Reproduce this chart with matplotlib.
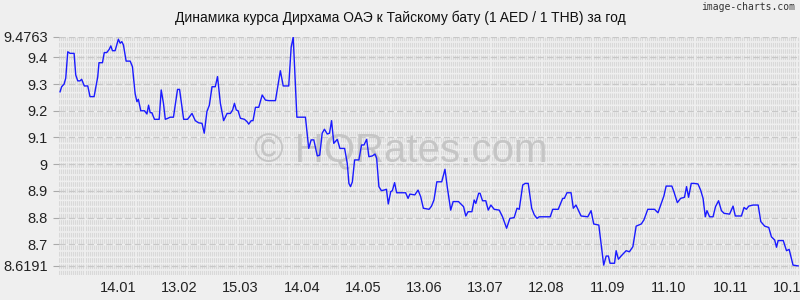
import numpy as np
import pandas as pd
import matplotlib
matplotlib.use("Agg")
import matplotlib.pyplot as plt
import matplotlib.dates as mdates

# days since 16.12.2024 and AED/THB rate
start = "2024-12-16"
days = [0.5, 1.3, 2.5, 3.3, 4.3, 5.4, 7.4, 8.2, 9.2, 10.3, 11.1, 12.4, 14.1, 15.2, 17.2,
        19.0, 19.6, 21.3, 22.2, 23.4, 24.6, 25.4, 26.2, 27.5, 29.1, 30.0, 30.8, 31.6, 32.9,
        34.9, 36.0, 37.3, 38.2, 38.9, 40.1, 41.9, 43.1, 43.9, 44.7, 45.5, 46.8, 49.1, 50.1,
        51.2, 52.1, 53.4, 54.5, 56.1, 58.1, 59.1, 61.1, 63.0, 65.2, 66.8, 68.4, 70.1, 71.2,
        72.5, 73.7, 75.0, 76.6, 77.7, 79.1, 80.7, 82.4, 84.0, 85.1, 86.0, 86.9, 87.8, 88.9,
        90.9, 92.2, 93.0, 94.2, 95.1, 96.3, 97.9, 99.6, 101.2, 102.8, 106.1, 107.2, 108.5,
        109.9, 112.6, 113.8, 114.8, 116.6, 120.8, 122.4, 123.6, 124.9, 126.6, 127.8, 129.0,
        130.1, 131.5, 132.6, 133.6, 134.7, 136.4, 137.7, 140.0, 141.3, 142.1, 142.9, 143.8,
        144.9, 147.0, 148.3, 149.5, 150.8, 151.9, 153.6, 154.9, 155.7, 156.8, 158.0, 159.3,
        160.5, 161.4, 162.6, 163.4, 164.5, 165.5, 169.9, 171.1, 172.0, 174.4, 176.0, 177.3,
        178.6, 181.4, 182.6, 183.8, 185.2, 187.6, 189.2, 190.4, 192.0, 193.2, 195.8, 197.0,
        198.3, 199.4, 200.5, 202.4, 203.5, 204.3, 205.7, 206.4, 207.6, 209.2, 210.4, 211.7,
        213.3, 215.8, 217.4, 219.4, 221.0, 223.1, 224.5, 225.6, 227.3, 228.5, 230.0, 231.7,
        233.0, 234.3, 235.4, 240.8, 242.0, 244.7, 246.9, 247.7, 249.0, 251.0, 252.1, 253.4,
        255.9, 259.2, 260.8, 262.1, 264.6, 267.0, 268.2, 269.3, 270.1, 272.3, 273.1, 274.2,
        275.5, 278.0, 279.6, 281.3, 282.9, 285.4, 286.7, 288.6, 291.9, 293.6, 295.2, 296.5,
        297.6, 300.4, 301.4, 303.1, 304.7, 306.6, 307.6, 308.6, 309.9, 311.3, 313.2, 314.5,
        315.7, 316.8, 317.6, 318.9, 320.6, 321.8, 323.3, 324.7, 326.0, 328.7, 330.4, 331.5,
        334.5, 335.8, 336.9, 338.1, 340.2, 342.7, 344.0, 345.9, 347.9, 349.2, 350.8, 351.7,
        352.5, 355.0, 356.6, 357.9, 359.8, 362.3]
rate = [9.271, 9.290, 9.300, 9.322, 9.421, 9.415, 9.415, 9.334, 9.312, 9.312, 9.318, 9.293,
        9.293, 9.253, 9.253, 9.328, 9.380, 9.380, 9.418, 9.418, 9.430, 9.443, 9.425, 9.425,
        9.468, 9.453, 9.459, 9.446, 9.386, 9.386, 9.365, 9.265, 9.234, 9.243, 9.200, 9.200,
        9.188, 9.221, 9.193, 9.193, 9.168, 9.168, 9.278, 9.228, 9.168, 9.172, 9.176, 9.176,
        9.280, 9.280, 9.168, 9.168, 9.190, 9.163, 9.155, 9.153, 9.116, 9.197, 9.221, 9.290,
        9.290, 9.328, 9.228, 9.163, 9.190, 9.190, 9.203, 9.228, 9.203, 9.200, 9.172, 9.168,
        9.159, 9.150, 9.163, 9.163, 9.213, 9.213, 9.259, 9.240, 9.238, 9.238, 9.290, 9.350,
        9.293, 9.293, 9.438, 9.476, 9.176, 9.176, 9.059, 9.091, 9.091, 9.031, 9.034, 9.116,
        9.131, 9.113, 9.116, 9.163, 9.078, 9.093, 9.059, 9.059, 9.003, 8.928, 8.916, 8.934,
        9.016, 9.016, 9.072, 9.072, 9.093, 9.028, 9.031, 9.038, 9.022, 8.916, 8.901, 8.903,
        8.906, 8.851, 8.897, 8.901, 8.931, 8.893, 8.893, 8.872, 8.888, 8.885, 8.903, 8.878,
        8.835, 8.831, 8.843, 8.866, 8.934, 8.934, 8.981, 8.910, 8.828, 8.860, 8.860, 8.851,
        8.841, 8.806, 8.822, 8.822, 8.866, 8.853, 8.891, 8.891, 8.863, 8.863, 8.828, 8.847,
        8.831, 8.828, 8.803, 8.760, 8.797, 8.800, 8.835, 8.831, 8.922, 8.928, 8.928, 8.835,
        8.810, 8.797, 8.803, 8.803, 8.831, 8.831, 8.872, 8.872, 8.893, 8.893, 8.835, 8.847,
        8.806, 8.803, 8.826, 8.776, 8.772, 8.622, 8.656, 8.656, 8.629, 8.629, 8.676, 8.644,
        8.656, 8.676, 8.672, 8.691, 8.768, 8.776, 8.791, 8.831, 8.831, 8.818, 8.853, 8.881,
        8.918, 8.918, 8.897, 8.856, 8.872, 8.876, 8.916, 8.876, 8.928, 8.928, 8.926, 8.903,
        8.872, 8.803, 8.826, 8.803, 8.803, 8.841, 8.863, 8.826, 8.816, 8.813, 8.843, 8.806,
        8.806, 8.838, 8.831, 8.843, 8.847, 8.847, 8.785, 8.768, 8.763, 8.728, 8.716, 8.689,
        8.714, 8.714, 8.676, 8.681, 8.622, 8.619]

tick_dates = ["2025-01-14", "2025-02-13", "2025-03-15", "2025-04-14", "2025-05-14",
              "2025-06-13", "2025-07-13", "2025-08-12", "2025-09-11", "2025-10-11",
              "2025-11-10", "2025-12-10"]
y_ticks = [8.6191, 8.7, 8.8, 8.9, 9.0, 9.1, 9.2, 9.3, 9.4, 9.4763]
y_labels = ["8.6191", "8.7", "8.8", "8.9", "9", "9.1", "9.2", "9.3", "9.4", "9.4763"]

title = "Динамика курса Дирхама ОАЭ к Тайскому бату (1 AED / 1 THB) за год"

plt.rcParams['font.family'] = ['Liberation Sans', 'DejaVu Sans']

t0 = pd.Timestamp(start)
dates = t0 + pd.to_timedelta(days, unit="D")

fig = plt.figure(figsize=(8, 3), dpi=100, facecolor="#efefef")
ax = fig.add_axes([59 / 800, 25 / 300, 1 - 59 / 800 + 0.002, 238 / 300])
ax.set_facecolor("#efefef")

x_end = t0 + pd.Timedelta(days=364)
ax.set_xlim(t0, x_end)
ax.set_ylim(8.585, 9.4763)

# dense daily background grid, as in the original
grid_days = pd.date_range(t0, x_end, freq="D")
ax.vlines(grid_days, 8.585, 9.4763, colors="#d9d9d9", linewidth=0.8,
          linestyles=(0, (4.2, 1.5)), zorder=1)
for yv in y_ticks:
    ax.axhline(yv, color="#c8c8c8", linewidth=0.9, linestyle=(0, (5, 2.5)), zorder=1)

ax.plot(dates, rate, color="#1a1aff", linewidth=1.0, zorder=3)

ax.text(0.46, 0.52, "© HQRates.com", transform=ax.transAxes, fontsize=29,
        color="#c2c2c2", alpha=0.9, ha="center", va="center", zorder=2)

for s in ax.spines.values():
    s.set_visible(False)

ax.set_yticks(y_ticks)
ax.set_yticklabels(y_labels, fontsize=10.5, color="#222222")
ax.set_xticks(pd.to_datetime(tick_dates))
ax.xaxis.set_major_formatter(mdates.DateFormatter("%d.%m"))
ax.tick_params(axis="x", length=0, pad=4, labelsize=10.5, labelcolor="#222222")
ax.tick_params(axis="y", length=4, width=0.8, color="#aaaaaa", pad=4)

fig.text(0.5, 1 - 18 / 300, title, ha="center", va="center", fontsize=10, color="#111111")
fig.text(0.994, 1 - 7 / 300, "image-charts.com", ha="right", va="center",
         fontsize=7, color="#333333", family="DejaVu Sans Mono")

fig.savefig("out.png", dpi=100, facecolor=fig.get_facecolor())
